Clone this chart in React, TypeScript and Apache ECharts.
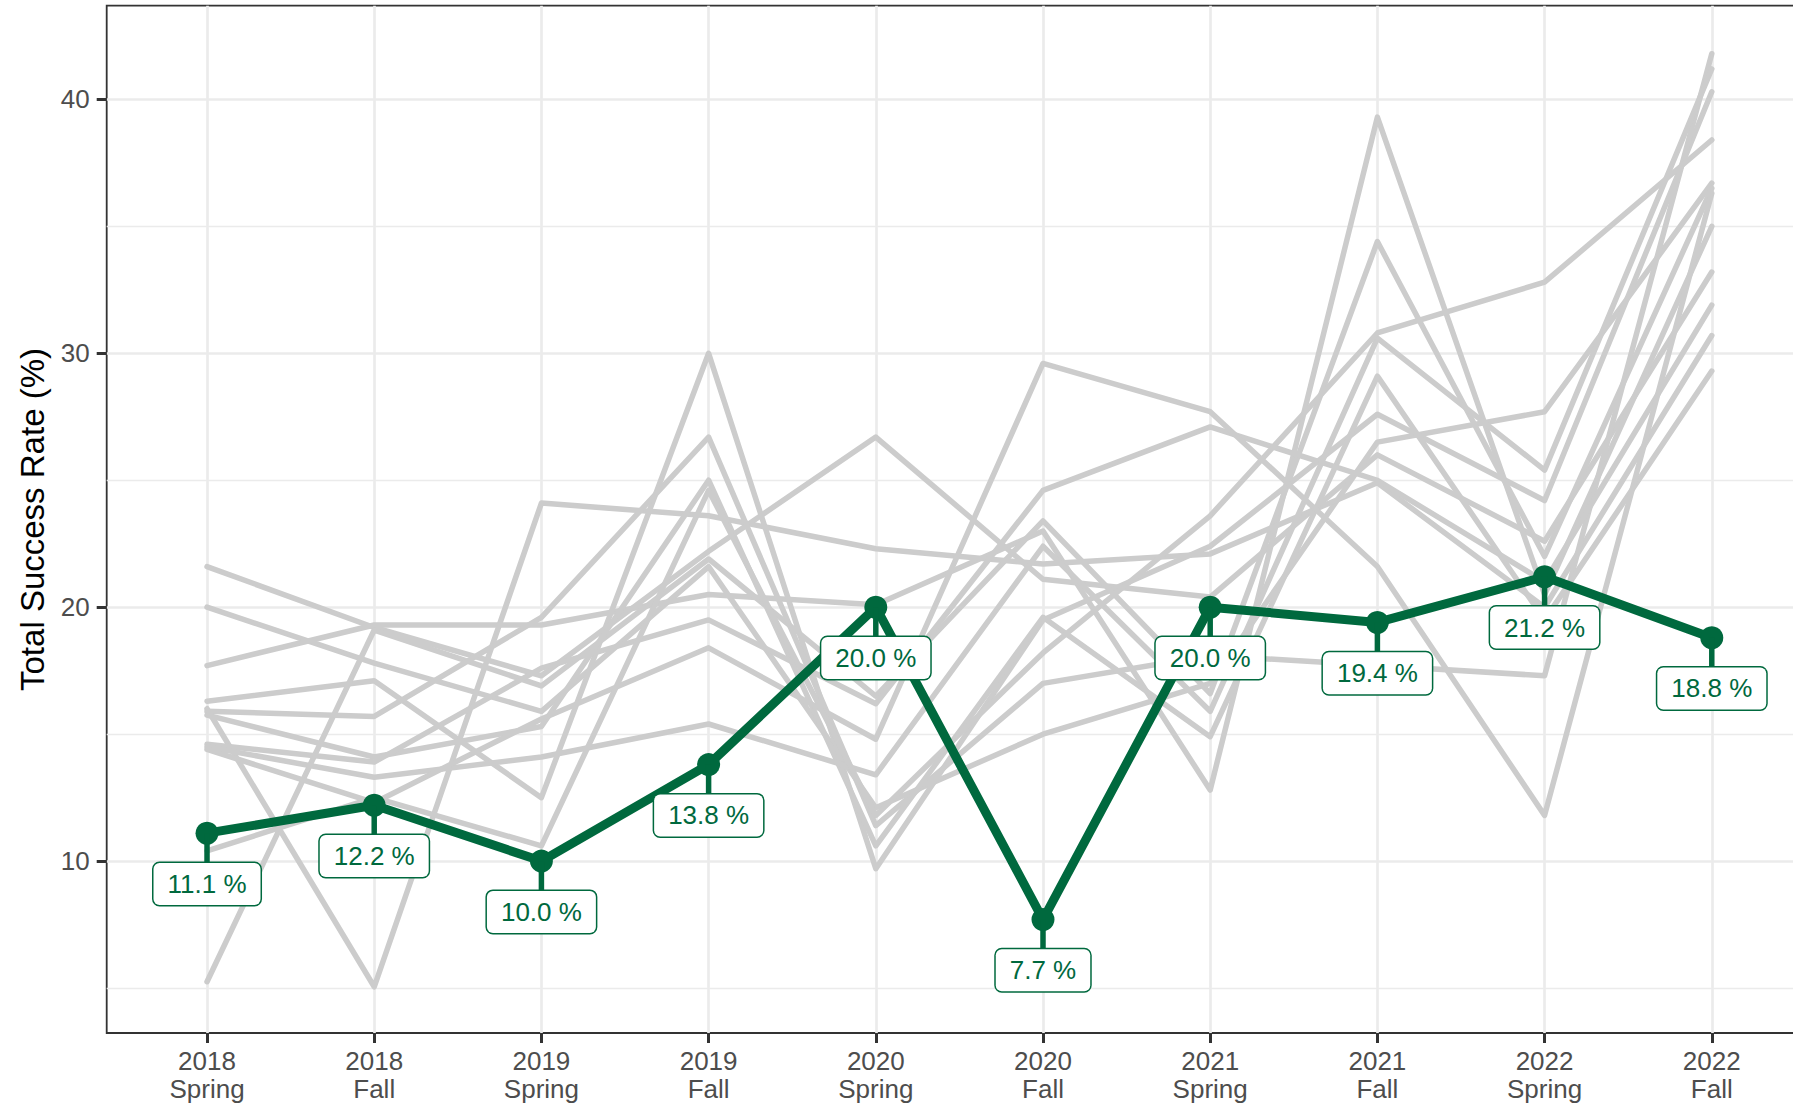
import React, { useEffect, useRef } from 'react';
import * as echarts from 'echarts';

// ---- data ----
const categories = [
  '2018\nSpring', '2018\nFall', '2019\nSpring', '2019\nFall', '2020\nSpring',
  '2020\nFall', '2021\nSpring', '2021\nFall', '2022\nSpring', '2022\nFall',
];

const highlighted = [11.1, 12.2, 10.0, 13.8, 20.0, 7.7, 20.0, 19.4, 21.2, 18.8];

const grey01 = [21.6, 19.2, 17.3, 22.2, 26.7, 21.1, 20.4, 26.0, 22.6, 33.2];
const grey02 = [20.0, 17.8, 15.9, 21.6, 12.1, 15.0, 17.0, 26.5, 27.7, 36.7];
const grey03 = [17.7, 19.3, 19.3, 20.5, 20.1, 23.0, 12.8, 39.3, 20.5, 35.0];
const grey04 = [16.3, 17.1, 12.5, 30.0, 9.7, 19.5, 22.4, 27.6, 24.2, 40.3];
const grey05 = [5.25, 19.1, 16.9, 21.9, 16.5, 23.4, 16.6, 34.4, 22.0, 36.5];
const grey06 = [16.0, 5.05, 24.1, 23.6, 22.3, 21.7, 22.1, 24.9, 20.0, 30.7];
const grey07 = [15.9, 15.7, 19.6, 26.7, 11.4, 17.0, 18.1, 17.7, 17.3, 41.8];
const grey08 = [15.75, 14.1, 15.3, 25.0, 10.6, 19.6, 14.9, 29.1, 19.5, 29.3];
const grey09 = [14.6, 13.9, 17.6, 19.5, 16.2, 24.6, 27.1, 25.0, 21.0, 31.9];
const grey10 = [14.5, 13.3, 14.1, 15.4, 13.4, 22.4, 15.9, 30.6, 25.4, 41.2];
const grey11 = [14.4, 12.3, 15.6, 18.4, 14.8, 29.6, 27.7, 21.6, 11.8, 36.3];
const grey12 = [10.4, 12.5, 10.6, 24.6, 11.8, 18.2, 23.6, 30.8, 32.8, 38.4];

const greyLines = [grey01, grey02, grey03, grey04, grey05, grey06, grey07, grey08, grey09, grey10, grey11, grey12];

const yMajorTicks = [10, 20, 30, 40];
const yMinorTicks = [5, 15, 25, 35];
const xTicks = categories.map((_, i) => i);
const labelNudge = 2; // label sits 2 units below its point
const yTitle = 'Total Success Rate (%)';

// ---- style ----
const GREEN = '#00693E';
const GREY = '#CCCCCC';
const GRID = '#EBEBEB';
const FONT = '"Liberation Sans", Arial, sans-serif';
const Y_MIN = 3.23;
const Y_MAX = 43.69;

export default function App() {
  const ref = useRef<HTMLDivElement>(null);

  useEffect(() => {
    if (!ref.current) return;
    const chart = echarts.init(ref.current, null, { renderer: 'svg' });

    const greySeries = greyLines.map((arr, k) => ({
      type: 'line',
      name: 'g' + k,
      data: arr.map((v, i) => [i, v]),
      symbol: 'none',
      silent: true,
      z: 2,
      lineStyle: { color: GREY, width: 5.5, cap: 'round', join: 'round' },
    }));

    const option: any = {
      animation: false,
      backgroundColor: '#ffffff',
      grid: {
        left: 106.7,
        top: 5.7,
        width: 1705.4,
        height: 1027.3,
        containLabel: false,
        outerBoundsMode: 'none',
        show: true,
        backgroundColor: '#ffffff',
        borderColor: '#333333',
        borderWidth: 1.8,
      },
      xAxis: {
        type: 'value',
        min: -0.6,
        max: 9.6,
        position: 'bottom',
        axisLine: { show: false, onZero: false },
        axisTick: {
          show: true,
          customValues: xTicks,
          length: 10,
          lineStyle: { color: '#333333', width: 3 },
        },
        axisLabel: {
          show: true,
          customValues: xTicks,
          formatter: (v: number) => categories[Math.round(v)] ?? '',
          color: '#4D4D4D',
          fontFamily: FONT,
          fontSize: 26,
          lineHeight: 28,
          margin: 14,
        },
        splitLine: { show: true, lineStyle: { color: GRID, width: 2.7 } },
      },
      yAxis: [
        {
          type: 'value',
          min: Y_MIN,
          max: Y_MAX,
          position: 'left',
          axisLine: { show: false, onZero: false },
          axisTick: {
            show: true,
            customValues: yMajorTicks,
            length: 10,
            lineStyle: { color: '#333333', width: 3 },
          },
          axisLabel: {
            show: true,
            customValues: yMajorTicks,
            color: '#4D4D4D',
            fontFamily: FONT,
            fontSize: 26,
            margin: 17,
          },
          splitLine: { show: true, lineStyle: { color: GRID, width: 2.7 } },
        },
        {
          type: 'value',
          min: Y_MIN,
          max: Y_MAX,
          position: 'left',
          axisLine: { show: false, onZero: false },
          axisTick: { show: false, customValues: yMinorTicks },
          axisLabel: { show: false, customValues: yMinorTicks },
          splitLine: { show: true, lineStyle: { color: GRID, width: 1.4 } },
        },
      ],
      graphic: [
        {
          type: 'text',
          x: 32,
          y: 519.5,
          rotation: Math.PI / 2,
          style: {
            text: yTitle,
            font: `33px ${FONT}`,
            fill: '#000000',
            align: 'center',
            verticalAlign: 'middle',
          },
        },
      ],
      series: [
        ...greySeries,
        {
          type: 'line',
          name: 'highlight',
          data: highlighted.map((v, i) => [i, v]),
          symbol: 'circle',
          symbolSize: 23,
          silent: true,
          z: 4,
          itemStyle: { color: GREEN },
          lineStyle: { color: GREEN, width: 9, join: 'round' },
        },
        {
          type: 'custom',
          name: 'labels',
          coordinateSystem: 'cartesian2d',
          silent: true,
          z: 6,
          data: highlighted.map((v, i) => [i, v]),
          renderItem: (params: any, api: any) => {
            const x = api.value(0);
            const v = api.value(1);
            const p = api.coord([x, v]);
            const q = api.coord([x, v - labelNudge]);
            return {
              type: 'group',
              children: [
                {
                  type: 'line',
                  shape: { x1: p[0], y1: p[1], x2: q[0], y2: q[1] },
                  style: { stroke: GREEN, lineWidth: 5.5 },
                },
                {
                  type: 'text',
                  x: q[0],
                  y: q[1],
                  style: {
                    text: highlighted[params.dataIndex].toFixed(1) + ' %',
                    align: 'center',
                    verticalAlign: 'middle',
                    fill: GREEN,
                    font: `26px ${FONT}`,
                    backgroundColor: '#ffffff',
                    borderColor: GREEN,
                    borderWidth: 1.5,
                    borderRadius: 6,
                    padding: [8, 14],
                  },
                },
              ],
            };
          },
        },
      ],
    };

    chart.setOption(option);
    return () => chart.dispose();
  }, []);

  return (
    <div style={{ position: 'fixed', left: 0, top: 0, width: 1793, height: 1107, overflow: 'hidden', background: '#fff' }}>
      <div ref={ref} style={{ width: 1793, height: 1107 }} />
    </div>
  );
}
